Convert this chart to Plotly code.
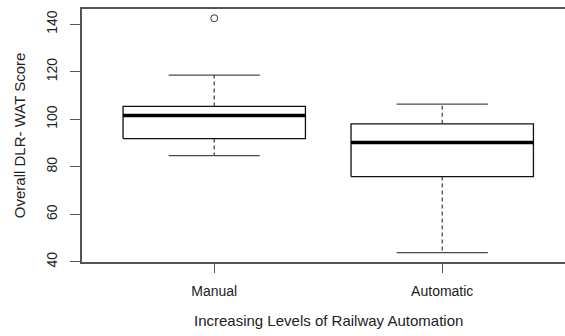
import plotly.graph_objects as go

# Summary statistics of the overall DLR-WAT score per automation level
categories = ["Manual", "Automatic"]
lower_whisker = [84.7, 43.9]
q1 = [91.9, 75.9]
median = [101.6, 90.2]
q3 = [105.4, 98.1]
upper_whisker = [118.6, 106.4]
outliers = [[142.5], []]

y_ticks = [40, 60, 80, 100, 120, 140]

BOX_HALF = 0.4
CAP_HALF = 0.2
positions = list(range(1, len(categories) + 1))

fig = go.Figure()

for pos, lo, a, m, b, hi, outs in zip(positions, lower_whisker, q1, median, q3,
                                       upper_whisker, outliers):
    # dashed whiskers
    for y0, y1 in ((b, hi), (a, lo)):
        fig.add_trace(go.Scatter(x=[pos, pos], y=[y0, y1], mode="lines",
                                 line=dict(color="#4a4a4a", width=1.3, dash="4px,3px"),
                                 hoverinfo="skip", showlegend=False))
    # whisker caps
    for yv in (hi, lo):
        fig.add_trace(go.Scatter(x=[pos - CAP_HALF, pos + CAP_HALF], y=[yv, yv],
                                 mode="lines", line=dict(color="#4a4a4a", width=1.3),
                                 hoverinfo="skip", showlegend=False))
    # box body
    fig.add_trace(go.Scatter(
        x=[pos - BOX_HALF, pos + BOX_HALF, pos + BOX_HALF, pos - BOX_HALF, pos - BOX_HALF],
        y=[a, a, b, b, a], mode="lines", fill="toself", fillcolor="white",
        line=dict(color="#111111", width=1.3), hoverinfo="skip", showlegend=False))
    # median
    fig.add_trace(go.Scatter(x=[pos - BOX_HALF, pos + BOX_HALF], y=[m, m], mode="lines",
                             line=dict(color="black", width=3.5),
                             hoverinfo="skip", showlegend=False))
    # outliers
    if outs:
        fig.add_trace(go.Scatter(x=[pos] * len(outs), y=outs, mode="markers",
                                 marker=dict(symbol="circle-open", size=7,
                                             color="#333333", line=dict(width=1)),
                                 hoverinfo="skip", showlegend=False))

font = dict(family="Liberation Sans, Arial, sans-serif", size=14, color="#222222")

fig.update_layout(
    width=565, height=336,
    margin=dict(l=82, r=0, t=9, b=74),
    paper_bgcolor="white", plot_bgcolor="white",
    font=font,
    showlegend=False,
    xaxis=dict(range=[0.42, 0.42 + 483 / 228], tickvals=positions, ticktext=categories,
               showgrid=False, zeroline=False, showline=True, mirror=True,
               linecolor="#555555", linewidth=1.5, ticks="outside", ticklen=9,
               tickcolor="#555555", tickwidth=1.3, tickfont=dict(size=14),
               ticklabelstandoff=6),
    yaxis=dict(range=[39.96, 146.4], tickvals=y_ticks, showgrid=False, zeroline=False,
               showline=True, mirror=False, linecolor="#555555", linewidth=1.5,
               ticks="outside", ticklen=10, tickcolor="#555555", tickwidth=1.3,
               tickangle=-90, tickfont=dict(size=14), ticklabelstandoff=8),
    annotations=[
        dict(text="Increasing Levels of Railway Automation", xref="x", yref="paper",
             x=1.5, y=-0.23, yanchor="middle", showarrow=False,
             font=dict(size=15)),
        dict(text="Overall DLR- WAT Score", xref="paper", yref="paper",
             x=-0.129, xanchor="center", y=0.5, yanchor="middle",
             textangle=-90, showarrow=False, font=dict(size=15)),
    ],
)

fig.write_html("out.html")
